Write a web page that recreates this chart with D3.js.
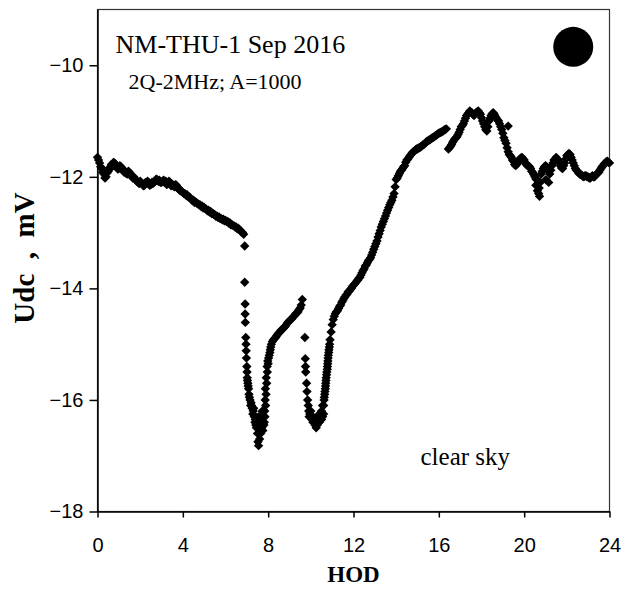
<!DOCTYPE html>
<html>
<head>
<meta charset="utf-8">
<script src="https://cdn.jsdelivr.net/npm/d3@7"></script>
<style>
  body { margin: 0; background: #fff; }
  svg { display: block; font-family: "Liberation Serif", "Times New Roman", serif; }
  .axis path, .axis line { stroke: #000; stroke-width: 1.5; }
  .axis text { font-size: 20px; fill: #000; }
</style>
</head>
<body>
<svg width="622" height="589"></svg>
<script>
// [hour of day, Udc in mV]
const morning = [
  [0.0, -11.65], [0.05, -11.7], [0.1, -11.75], [0.15, -11.82], [0.2, -11.85], [0.25, -11.92], [0.3, -11.95], [0.35, -12.02],
  [0.4, -12.0], [0.45, -11.93], [0.5, -11.9], [0.55, -11.84], [0.6, -11.85], [0.65, -11.78], [0.7, -11.8], [0.75, -11.74],
  [0.8, -11.75], [0.85, -11.8], [0.9, -11.8], [0.95, -11.86], [1.0, -11.85], [1.05, -11.8], [1.1, -11.82], [1.15, -11.86],
  [1.2, -11.88], [1.25, -11.92], [1.3, -11.9], [1.35, -11.94], [1.4, -11.95], [1.45, -11.9], [1.5, -11.92], [1.55, -11.96],
  [1.6, -11.98], [1.65, -12.02], [1.7, -12.0], [1.75, -12.04], [1.8, -12.05], [1.85, -12.08], [1.9, -12.1], [1.95, -12.12],
  [2.0, -12.08], [2.05, -12.1], [2.1, -12.12], [2.15, -12.16], [2.2, -12.15], [2.25, -12.1], [2.3, -12.12], [2.35, -12.08],
  [2.4, -12.1], [2.45, -12.15], [2.5, -12.14], [2.55, -12.1], [2.6, -12.12], [2.65, -12.1], [2.7, -12.08], [2.75, -12.04],
  [2.8, -12.05], [2.85, -12.08], [2.9, -12.06], [2.95, -12.1], [3.0, -12.1], [3.05, -12.08], [3.1, -12.06], [3.15, -12.1],
  [3.2, -12.08], [3.25, -12.14], [3.3, -12.12], [3.35, -12.08], [3.4, -12.1], [3.45, -12.16], [3.5, -12.13], [3.55, -12.16],
  [3.6, -12.18], [3.65, -12.14], [3.7, -12.15], [3.75, -12.2], [3.8, -12.2], [3.85, -12.24], [3.9, -12.25], [3.95, -12.26],
  [4.0, -12.28], [4.05, -12.3], [4.1, -12.3], [4.15, -12.33], [4.2, -12.32], [4.25, -12.36], [4.3, -12.36], [4.35, -12.38],
  [4.4, -12.4], [4.45, -12.43], [4.5, -12.42], [4.55, -12.46], [4.6, -12.45], [4.65, -12.47], [4.7, -12.48], [4.75, -12.5],
  [4.8, -12.5], [4.85, -12.53], [4.9, -12.52], [4.95, -12.56], [5.0, -12.55], [5.05, -12.57], [5.1, -12.58], [5.15, -12.61],
  [5.2, -12.6], [5.25, -12.63], [5.3, -12.62], [5.35, -12.66], [5.4, -12.65], [5.45, -12.67], [5.5, -12.68], [5.55, -12.71],
  [5.6, -12.7], [5.65, -12.73], [5.7, -12.72], [5.75, -12.75], [5.8, -12.75], [5.85, -12.77], [5.9, -12.76], [5.95, -12.79],
  [6.0, -12.78], [6.05, -12.8], [6.1, -12.8], [6.15, -12.83], [6.2, -12.82], [6.25, -12.86], [6.3, -12.86], [6.35, -12.87],
  [6.4, -12.88], [6.45, -12.9], [6.5, -12.9], [6.55, -12.93], [6.6, -12.92], [6.65, -12.95], [6.7, -12.96], [6.75, -12.99],
  [6.8, -13.0], [6.85, -13.03]
];
const firstDip = [
  [6.9, -13.24], [6.9, -13.89], [6.92, -14.28], [6.92, -14.46], [6.93, -14.61], [6.95, -14.88], [6.96, -15.0], [6.97, -15.12],
  [6.98, -15.25], [7.0, -15.4], [7.01, -15.5], [7.02, -15.6], [7.03, -15.65], [7.05, -15.7], [7.06, -15.75], [7.08, -15.8],
  [7.1, -15.9], [7.12, -15.95], [7.15, -16.0], [7.18, -16.1], [7.2, -16.05], [7.22, -16.1], [7.25, -16.15], [7.28, -16.25],
  [7.3, -16.2], [7.32, -16.15], [7.35, -16.3], [7.38, -16.4], [7.4, -16.35], [7.42, -16.45], [7.45, -16.5], [7.45, -16.35],
  [7.5, -16.6], [7.5, -16.45], [7.52, -16.75], [7.55, -16.82], [7.55, -16.3], [7.6, -16.7], [7.6, -16.45], [7.62, -16.5],
  [7.65, -16.4], [7.65, -16.6], [7.7, -16.3], [7.7, -16.5], [7.72, -16.2], [7.75, -16.55], [7.78, -16.3], [7.8, -16.45],
  [7.82, -16.4], [7.84, -16.2], [7.85, -16.3], [7.86, -16.0], [7.87, -15.8], [7.88, -16.1], [7.9, -15.9], [7.91, -15.6],
  [7.93, -15.7], [7.95, -15.4], [7.96, -15.5], [7.98, -15.3], [8.0, -15.35], [8.02, -15.25], [8.05, -15.2], [8.08, -15.15],
  [8.1, -15.1], [8.12, -15.05], [8.15, -15.0], [8.2, -14.95], [8.25, -14.92], [8.3, -14.9], [8.35, -14.88], [8.4, -14.85],
  [8.45, -14.82], [8.5, -14.8], [8.55, -14.78], [8.6, -14.75], [8.65, -14.74], [8.7, -14.72], [8.75, -14.7], [8.8, -14.68],
  [8.85, -14.65], [8.9, -14.62], [8.95, -14.6], [9.0, -14.58], [9.05, -14.56], [9.1, -14.55], [9.15, -14.52], [9.2, -14.5],
  [9.25, -14.48], [9.3, -14.45], [9.35, -14.44], [9.4, -14.42], [9.45, -14.38], [9.5, -14.35], [9.55, -14.3], [9.6, -14.2]
];
const secondDip = [
  [9.72, -14.88], [9.74, -15.26], [9.75, -15.4], [9.76, -15.5], [9.8, -15.7], [9.82, -15.85], [9.85, -16.0], [9.88, -16.1],
  [9.9, -16.2], [9.92, -16.3], [9.95, -16.25], [10.0, -16.3], [10.0, -16.2], [10.05, -16.35], [10.1, -16.3], [10.1, -16.4],
  [10.15, -16.4], [10.2, -16.35], [10.2, -16.45], [10.25, -16.5], [10.3, -16.45], [10.3, -16.3], [10.35, -16.3], [10.4, -16.25],
  [10.4, -16.4], [10.45, -16.35], [10.5, -16.2], [10.5, -16.35], [10.55, -16.3], [10.55, -16.1]
];
const afternoon = [
  [10.6, -16.1], [10.6, -16.25], [10.62, -16.0], [10.63, -15.95], [10.65, -15.9], [10.66, -15.85], [10.68, -15.8], [10.69, -15.75],
  [10.7, -15.7], [10.71, -15.65], [10.72, -15.6], [10.74, -15.55], [10.75, -15.5], [10.77, -15.45], [10.78, -15.4], [10.79, -15.35],
  [10.8, -15.3], [10.81, -15.25], [10.82, -15.2], [10.84, -15.15], [10.85, -15.1], [10.87, -15.05], [10.88, -15.0], [10.9, -14.92],
  [10.95, -14.78], [11.0, -14.65], [11.05, -14.56],
  [11.1, -14.5], [11.15, -14.45], [11.2, -14.42], [11.25, -14.4], [11.3, -14.36], [11.35, -14.32], [11.4, -14.3], [11.45, -14.25],
  [11.5, -14.22], [11.55, -14.18], [11.6, -14.15], [11.65, -14.12], [11.7, -14.1], [11.75, -14.06], [11.8, -14.05], [11.85, -14.02],
  [11.9, -14.0], [11.95, -13.96], [12.0, -13.95], [12.05, -13.92], [12.1, -13.9], [12.15, -13.87], [12.2, -13.85], [12.25, -13.82],
  [12.3, -13.8], [12.35, -13.76], [12.4, -13.72], [12.45, -13.68], [12.5, -13.65], [12.55, -13.6], [12.6, -13.58], [12.65, -13.54],
  [12.7, -13.5], [12.75, -13.48], [12.8, -13.45], [12.85, -13.4], [12.9, -13.35], [12.95, -13.3], [13.0, -13.25], [13.05, -13.2],
  [13.1, -13.15], [13.15, -13.08], [13.2, -13.02], [13.25, -12.96], [13.3, -12.9], [13.35, -12.85], [13.4, -12.8], [13.45, -12.75],
  [13.5, -12.7], [13.55, -12.65], [13.6, -12.6], [13.65, -12.55], [13.7, -12.5], [13.75, -12.46], [13.8, -12.42], [13.85, -12.36],
  [13.9, -12.3], [13.95, -12.18], [14.0, -12.05], [14.05, -12.02], [14.1, -11.98], [14.15, -11.94], [14.2, -11.9], [14.25, -11.88],
  [14.3, -11.85], [14.35, -11.82], [14.4, -11.8], [14.45, -11.74], [14.5, -11.7], [14.55, -11.68], [14.6, -11.65], [14.65, -11.62],
  [14.7, -11.6], [14.75, -11.57], [14.8, -11.55], [14.85, -11.54], [14.9, -11.52], [14.95, -11.5], [15.0, -11.5], [15.05, -11.48],
  [15.1, -11.48], [15.15, -11.46], [15.2, -11.45], [15.25, -11.43], [15.3, -11.42], [15.35, -11.4], [15.4, -11.38], [15.45, -11.36],
  [15.5, -11.35], [15.55, -11.34], [15.6, -11.33], [15.65, -11.31], [15.7, -11.3], [15.75, -11.29], [15.8, -11.28], [15.85, -11.26],
  [15.9, -11.25], [15.95, -11.23], [16.0, -11.22], [16.05, -11.21], [16.1, -11.2], [16.15, -11.19], [16.2, -11.18], [16.25, -11.16],
  [16.3, -11.15], [16.35, -11.14]
];
const evening = [
  [16.45, -11.5], [16.5, -11.48], [16.55, -11.45], [16.6, -11.42], [16.65, -11.38], [16.7, -11.35], [16.75, -11.32], [16.8, -11.3],
  [16.85, -11.28], [16.9, -11.24], [16.95, -11.2], [17.0, -11.15], [17.05, -11.1], [17.1, -11.08], [17.15, -11.05], [17.2, -11.0],
  [17.25, -10.95], [17.3, -10.9], [17.35, -10.88], [17.4, -10.85], [17.45, -10.82], [17.5, -10.84], [17.55, -10.85], [17.6, -10.88],
  [17.65, -10.9], [17.7, -10.87], [17.75, -10.85], [17.8, -10.83], [17.85, -10.82], [17.9, -10.85], [17.95, -10.88], [18.0, -10.94],
  [18.05, -11.0], [18.1, -11.05], [18.15, -11.1], [18.2, -11.15], [18.25, -11.18], [18.3, -11.1], [18.35, -11.0], [18.4, -10.95],
  [18.45, -10.9], [18.5, -10.87], [18.55, -10.85], [18.6, -10.88], [18.65, -10.92], [18.7, -10.95], [18.75, -10.98], [18.8, -11.0],
  [18.85, -11.05], [18.9, -11.1], [18.95, -11.15], [19.0, -11.22], [19.05, -11.3], [19.1, -11.35], [19.15, -11.4], [19.2, -11.48],
  [19.25, -11.09], [19.25, -11.55], [19.3, -11.6], [19.35, -11.62], [19.4, -11.65], [19.45, -11.7], [19.5, -11.72], [19.55, -11.78],
  [19.6, -11.8], [19.65, -11.78], [19.7, -11.75], [19.75, -11.7], [19.8, -11.68], [19.85, -11.66], [19.9, -11.65], [19.95, -11.68],
  [20.0, -11.7], [20.05, -11.75], [20.1, -11.78], [20.15, -11.8], [20.2, -11.8], [20.25, -11.82], [20.3, -11.85], [20.35, -11.9],
  [20.4, -11.92], [20.45, -11.96], [20.5, -12.0], [20.55, -12.04], [20.55, -12.15], [20.6, -12.05], [20.62, -12.25], [20.65, -12.12],
  [20.68, -12.3], [20.7, -12.2], [20.72, -12.35], [20.75, -12.1], [20.8, -11.95], [20.85, -11.9], [20.9, -11.85], [20.95, -11.82],
  [21.0, -11.8], [21.02, -12.05], [21.05, -11.82], [21.1, -11.85], [21.15, -11.9], [21.15, -12.1], [21.2, -11.95], [21.25, -11.88],
  [21.3, -11.8], [21.35, -11.75], [21.4, -11.7], [21.45, -11.68], [21.5, -11.65], [21.55, -11.68], [21.6, -11.7], [21.65, -11.75],
  [21.7, -11.8], [21.75, -11.84], [21.8, -11.85], [21.85, -11.8], [21.9, -11.75], [21.95, -11.68], [22.0, -11.62], [22.05, -11.6],
  [22.1, -11.58], [22.15, -11.6], [22.2, -11.65], [22.25, -11.7], [22.3, -11.75], [22.35, -11.8], [22.4, -11.85], [22.45, -11.88],
  [22.5, -11.9], [22.55, -11.93], [22.6, -11.95], [22.65, -11.96], [22.7, -11.97], [22.75, -11.99], [22.8, -12.0], [22.85, -11.98],
  [22.9, -11.98], [22.95, -12.0], [23.0, -12.0], [23.05, -12.02], [23.1, -12.02], [23.15, -12.0], [23.2, -11.98], [23.25, -12.0],
  [23.3, -12.0], [23.35, -11.97], [23.4, -11.95], [23.45, -11.93], [23.5, -11.92], [23.55, -11.88], [23.6, -11.85], [23.65, -11.82],
  [23.7, -11.8], [23.75, -11.77], [23.8, -11.75], [23.85, -11.73], [23.9, -11.72], [23.95, -11.74], [24.0, -11.75]
];
const xTicks = [0, 4, 8, 12, 16, 20, 24];
const yTicks = [-18, -16, -14, -12, -10];

const points = [...morning, ...firstDip, ...secondDip, ...afternoon, ...evening]
    .map(([hod, udc]) => ({hod, udc}));

const svg = d3.select('svg');
const margin = {left: 97.5, top: 9.5, right: 12.5, bottom: 77.5};
const width = 622 - margin.left - margin.right;
const height = 589 - margin.top - margin.bottom;

const chart = svg.append('g')
    .attr('transform', `translate(${margin.left}, ${margin.top})`);

const xScale = d3.scaleLinear()
    .range([0, width])
    .domain([0, 24]);

const yScale = d3.scaleLinear()
    .range([height, 0])
    .domain([-18, -9]);

// frame
chart.append('rect')
    .attr('width', width)
    .attr('height', height)
    .attr('fill', 'none')
    .attr('stroke', '#333')
    .attr('stroke-width', 1.2);

chart.append('g')
    .attr('class', 'axis')
    .attr('transform', `translate(0, ${height})`)
    .call(d3.axisBottom(xScale).tickValues(xTicks).tickSize(6).tickPadding(20).tickSizeOuter(0));

chart.append('g')
    .attr('class', 'axis')
    .call(d3.axisLeft(yScale).tickValues(yTicks).tickSize(8).tickPadding(6).tickSizeOuter(0));

chart.selectAll('.axis .domain').attr('stroke-width', 2);

const diamond = d3.symbol().type(d3.symbolDiamond2).size(56);

chart.append('g')
    .selectAll('path')
    .data(points)
    .enter()
    .append('path')
    .attr('transform', (d) => `translate(${xScale(d.hod)}, ${yScale(d.udc)})`)
    .attr('d', diamond)
    .attr('fill', '#000');

// sun marker
chart.append('circle')
    .attr('cx', xScale(22.3))
    .attr('cy', yScale(-9.67))
    .attr('r', 20)
    .attr('fill', '#000');

chart.append('text')
    .attr('x', 18)
    .attr('y', 43)
    .attr('font-size', 26)
    .text('NM-THU-1 Sep 2016');

chart.append('text')
    .attr('x', 31)
    .attr('y', 79)
    .attr('font-size', 22)
    .text('2Q-2MHz; A=1000');

chart.append('text')
    .attr('x', 323)
    .attr('y', 455)
    .attr('font-size', 25)
    .text('clear sky');

svg.append('text')
    .attr('x', margin.left + width / 2)
    .attr('y', 582)
    .attr('text-anchor', 'middle')
    .attr('font-size', 23)
    .attr('font-weight', 'bold')
    .text('HOD');

svg.append('text')
    .attr('transform', 'translate(34, 258) rotate(-90)')
    .attr('text-anchor', 'middle')
    .attr('font-size', 29)
    .attr('font-weight', 'bold')
    .style('white-space', 'pre')
    .text('Udc  ,  mV');
</script>
</body>
</html>
